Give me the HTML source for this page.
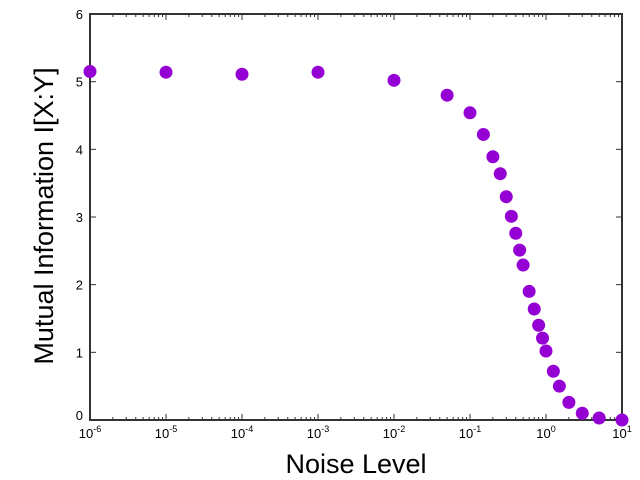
<!DOCTYPE html>
<html><head><meta charset="utf-8"><style>
body{margin:0;background:#fff}
svg{display:block;font-family:"Liberation Sans",sans-serif}
</style></head><body>
<svg id="chart" width="640" height="480"></svg>
<script>
const noiseLevels=[1e-6,1e-5,1e-4,1e-3,1e-2,0.05,0.1,0.15,0.2,0.25,0.3,0.35,0.4,0.45,0.5,0.6,0.7,0.8,0.9,1.0,1.25,1.5,2,3,5,10];
const miValues=[5.15,5.14,5.11,5.14,5.02,4.80,4.54,4.22,3.89,3.64,3.30,3.01,2.76,2.51,2.29,1.90,1.64,1.40,1.21,1.02,0.72,0.50,0.26,0.10,0.03,0.0];
const xExponents=[-6,-5,-4,-3,-2,-1,0,1];
const yTicks=[0,1,2,3,4,5,6];

const NS='http://www.w3.org/2000/svg';
const svg=document.getElementById('chart');
const L=90,R=622,T=14,B=420;
const xs=v=>L+(Math.log10(v)+6)/7*(R-L);
const ys=v=>B-v/6*(B-T);
function mk(tag,attrs,parent){const e=document.createElementNS(NS,tag);for(const k in attrs)e.setAttribute(k,attrs[k]);(parent||svg).appendChild(e);return e;}

const ticks=mk('g',{stroke:'#333','stroke-width':1});


for(let d=-6;d<1;d++){for(let m=2;m<10;m++){const x=xs(m*Math.pow(10,d));mk('line',{x1:x,x2:x,y1:B,y2:B-3},ticks);mk('line',{x1:x,x2:x,y1:T,y2:T+3},ticks);}}
xExponents.forEach(e=>{const x=xs(Math.pow(10,e));mk('line',{x1:x,x2:x,y1:B,y2:B-6},ticks);mk('line',{x1:x,x2:x,y1:T,y2:T+6},ticks);
 const t=mk('text',{x:x,y:B+18,'font-size':13,'text-anchor':'middle',fill:'#000'});
 
 
 t.textContent='10';const s=mk('tspan',{dy:-6,'font-size':9},t);s.textContent=e;});
yTicks.forEach(v=>{const y=ys(v);mk('line',{x1:L,x2:L+6,y1:y,y2:y},ticks);mk('line',{x1:R,x2:R-6,y1:y,y2:y},ticks);
 const t=mk('text',{x:L-7,y:y+(v===0?0:5),'font-size':13,'text-anchor':'end',fill:'#000'});
 
 
 t.textContent=v;});

const frame=mk('rect',{x:L,y:T,width:R-L,height:B-T,fill:'none',stroke:'#333','stroke-width':2});



const pts=mk('g',{fill:'#9400d3'});


noiseLevels.forEach((n,i)=>{const c=mk('circle',{cx:xs(n),cy:ys(miValues[i]),r:6.5},pts);
 
 });

const xl=mk('text',{x:356,y:473,'font-size':27,'text-anchor':'middle',fill:'#000'});


xl.textContent='Noise Level';
const yl=mk('text',{x:0,y:0,'font-size':27,'text-anchor':'middle',fill:'#000',transform:'translate(53,216) rotate(-90)'});


yl.textContent='Mutual Information I[X:Y]';
</script>
</body></html>
